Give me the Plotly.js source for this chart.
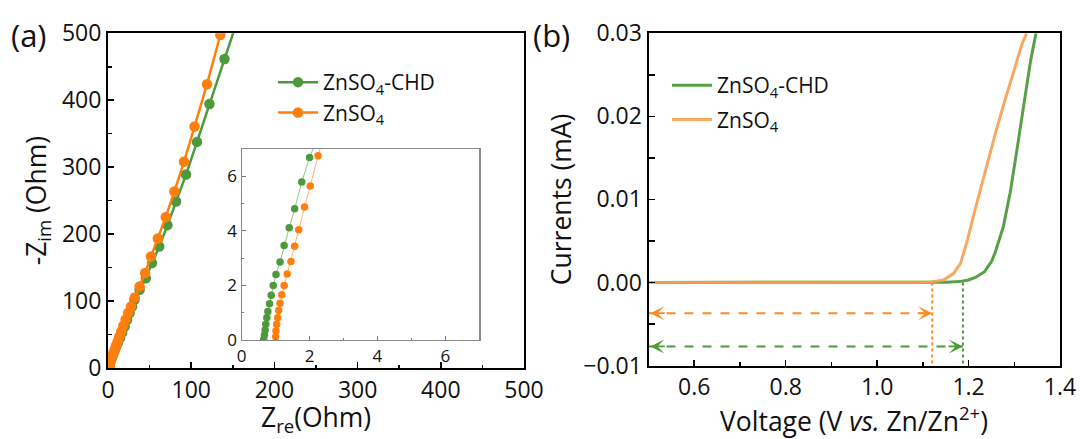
<!DOCTYPE html>
<html>
<head>
<meta charset="utf-8">
<script src="https://cdn.plot.ly/plotly-3.0.1.min.js"></script>
<style>html,body{margin:0;padding:0;background:#fff;}#chart{width:1081px;height:439px;}</style>
</head>
<body>
<div id="chart"></div>
<script>
// ---------- data (a): Nyquist plots ----------
const seriesNames = ['ZnSO<sub>4</sub>-CHD', 'ZnSO<sub>4</sub>'];
const chdZre = [0.65,0.67,0.69,0.71,0.74,0.77,0.82,0.87,0.93,1.01,1.13,1.25,1.40,1.56,1.77,2.0,
  2.4,3.0,4.0,5.0,6.5,8.0,10,12,14.5,17,20,23,26,29,
  31.8,38,45.5,52.9,61.6,71.5,81.8,93.8,107,121.9,140,160];
const chdZim = [0.02,0.18,0.37,0.58,0.82,1.04,1.33,1.64,2.0,2.40,2.86,3.46,4.11,4.81,5.79,6.69,
  8.0,10,13,17,21,26,32,38,45,53,62,72,82,92,
  102,117,134,156.7,181.6,213.4,248.8,289,337.8,394.5,461.7,536];
const refZre = [1.0,1.01,1.03,1.06,1.09,1.13,1.18,1.25,1.34,1.45,1.56,1.68,1.85,2.02,2.25,
  2.6,3.1,3.8,4.6,5.6,6.8,8.2,9.8,11.6,13.6,15.9,18.4,21.2,24.3,
  27.7,32.2,38,44.6,51.7,59.9,69.4,79.8,91.3,104,119,135];
const refZim = [0.12,0.34,0.58,0.82,1.08,1.35,1.66,2.0,2.42,2.88,3.44,4.04,4.87,5.64,6.75,
  8.2,10.2,12.8,15.8,19.3,23.4,28.2,33.6,39.8,46.8,54.5,63,72.5,82.5,
  92,105.5,121.9,141.8,166.7,193.5,225.4,263.7,308,360.7,424,497.5];

// ---------- data (b): LSV ----------
const chdV = [0.5,0.7,0.9,1.0,1.1,1.15,1.18,1.2,1.215,1.235,1.25,1.2575,1.276,1.291,1.3025,1.314,1.325,1.336,1.3475];
const chdI = [0,0,0,0,0,0.00003,0.0001,0.0003,0.0006,0.0013,0.0025,0.0035,0.0067,0.0108,0.0148,0.0188,0.0228,0.0268,0.030];
const refV = [0.5,0.7,0.9,1.0,1.08,1.119,1.145,1.1675,1.1825,1.1975,1.2125,1.2275,1.2425,1.261,1.28,1.299,1.3175,1.327];
const refI = [0,0,0,0,0,0.00005,0.0003,0.0011,0.0023,0.0051,0.0084,0.0116,0.0148,0.0184,0.022,0.0256,0.0288,0.030];
// onset potentials and arrow levels [CHD, ZnSO4]
const onsetV = [1.1877, 1.1205];
const arrowLevel = [-0.0077, -0.0037];
const vStart = 0.5;

// ---------- styles ----------
const FONT = 'Open Sans, Noto Sans, sans-serif';
const TXT = '#111';
const GREEN_A = '#4C9A3C', ORANGE_A = '#FF7F0E';
const GREEN_B = '#58A045', ORANGE_B = 'rgba(247,160,80,0.9)';
const GREEN_ARW = '#4E9A3A', ORANGE_ARW = '#FF8A1F';

const W = 1081, H = 439;
const px = v => v / W, py = v => 1 - v / H;

const traces = [
  {x: chdZre, y: chdZim, xaxis: 'x', yaxis: 'y', name: seriesNames[0], mode: 'lines+markers',
   line: {color: GREEN_A, width: 2.5}, marker: {color: GREEN_A, size: 10.5}, legend: 'legend', legendgroup: 'a1'},
  {x: refZre, y: refZim, xaxis: 'x', yaxis: 'y', name: seriesNames[1], mode: 'lines+markers',
   line: {color: ORANGE_A, width: 2.5}, marker: {color: ORANGE_A, size: 10.5}, legend: 'legend', legendgroup: 'a2'},
  {x: chdZre, y: chdZim, xaxis: 'x3', yaxis: 'y3', name: seriesNames[0], mode: 'lines+markers', showlegend: false,
   line: {color: 'rgba(76,154,60,0.6)', width: 1}, marker: {color: GREEN_A, size: 7.5}},
  {x: refZre, y: refZim, xaxis: 'x3', yaxis: 'y3', name: seriesNames[1], mode: 'lines+markers', showlegend: false,
   line: {color: 'rgba(255,127,14,0.6)', width: 1}, marker: {color: ORANGE_A, size: 7.5}},
  // panel b guide lines
  {x: [vStart, onsetV[1]], y: [arrowLevel[1], arrowLevel[1]], xaxis: 'x2', yaxis: 'y2', mode: 'lines', showlegend: false,
   line: {color: ORANGE_ARW, width: 2, dash: 'dash'}, hoverinfo: 'skip'},
  {x: [vStart, onsetV[0]], y: [arrowLevel[0], arrowLevel[0]], xaxis: 'x2', yaxis: 'y2', mode: 'lines', showlegend: false,
   line: {color: GREEN_ARW, width: 2, dash: 'dash'}, hoverinfo: 'skip'},
  {x: [onsetV[1], onsetV[1]], y: [0, -0.01], xaxis: 'x2', yaxis: 'y2', mode: 'lines', showlegend: false,
   line: {color: ORANGE_ARW, width: 2, dash: 'dot'}, hoverinfo: 'skip'},
  {x: [onsetV[0], onsetV[0]], y: [0, -0.01], xaxis: 'x2', yaxis: 'y2', mode: 'lines', showlegend: false,
   line: {color: GREEN_ARW, width: 2, dash: 'dot'}, hoverinfo: 'skip'},
  {x: chdV, y: chdI, xaxis: 'x2', yaxis: 'y2', name: seriesNames[0], mode: 'lines',
   line: {color: GREEN_B, width: 3}, legend: 'legend2', legendgroup: 'b1'},
  {x: refV, y: refI, xaxis: 'x2', yaxis: 'y2', name: seriesNames[1], mode: 'lines',
   line: {color: ORANGE_B, width: 3}, legend: 'legend2', legendgroup: 'b2'}
];

const frame = {showline: true, linecolor: '#000', linewidth: 2, mirror: true, showgrid: false, zeroline: false,
  ticks: 'inside', ticklen: 6, tickwidth: 1.5, tickcolor: '#000',
  tickfont: {family: FONT, size: 23, color: TXT}};
const titleFont = {family: FONT, size: 26.5, color: TXT};

function arrow(x, y, dir, color) {
  return {x: x, y: y, xref: 'x2', yref: 'y2', ax: -dir * 16, ay: 0, axref: 'pixel', ayref: 'pixel',
    text: '', showarrow: true, arrowhead: 3, arrowsize: 1.3, arrowwidth: 1.8, arrowcolor: color};
}

const xA = [108, 524], xB = [648.5, 1060];

const layout = {
  width: W, height: H,
  margin: {l: 0, r: 0, t: 0, b: 0},
  paper_bgcolor: '#fff', plot_bgcolor: '#fff',
  font: {family: FONT, color: TXT},
  xaxis: Object.assign({}, frame, {domain: [px(xA[0]), px(xA[1])], anchor: 'y', range: [0, 500], dtick: 100,
    minor: {ticks: 'inside', dtick: 50, ticklen: 3.5, tickwidth: 1.5, tickcolor: '#000'}}),
  yaxis: Object.assign({}, frame, {domain: [py(368), py(33.3)], anchor: 'x', range: [0, 500], dtick: 100,
    minor: {ticks: 'inside', dtick: 50, ticklen: 3.5, tickwidth: 1.5, tickcolor: '#000'},
    title: {text: '-Z<sub>im</sub> (Ohm)', font: titleFont, standoff: 8}}),
  xaxis3: {domain: [px(241.7), px(479.3)], anchor: 'y3', range: [0, 7], dtick: 2,
    showline: true, linecolor: '#8a8a8a', linewidth: 1.2, mirror: true, showgrid: false, zeroline: false,
    ticks: 'inside', ticklen: 4, tickcolor: '#777', tickfont: {family: FONT, size: 17, color: TXT},
    minor: {ticks: 'inside', dtick: 1, ticklen: 2.5, tickcolor: '#777'}},
  yaxis3: {domain: [py(340), py(149)], anchor: 'x3', range: [0, 7], dtick: 2,
    showline: true, linecolor: '#8a8a8a', linewidth: 1.2, mirror: true, showgrid: false, zeroline: false,
    ticks: 'inside', ticklen: 4, tickcolor: '#777', tickfont: {family: FONT, size: 17, color: TXT},
    minor: {ticks: 'inside', dtick: 1, ticklen: 2.5, tickcolor: '#777'}},
  xaxis2: Object.assign({}, frame, {domain: [px(xB[0]), px(xB[1])], anchor: 'y2', range: [0.5, 1.4],
    tick0: 0.6, dtick: 0.2, tickformat: '.1f',
    minor: {ticks: 'inside', dtick: 0.1, tick0: 0.5, ticklen: 3.5, tickwidth: 1.5, tickcolor: '#000'}}),
  yaxis2: Object.assign({}, frame, {domain: [py(365.5), py(33.3)], anchor: 'x2', range: [-0.01, 0.03],
    dtick: 0.01, tickformat: '.2f',
    minor: {ticks: 'inside', dtick: 0.005, ticklen: 6, tickwidth: 1.5, tickcolor: '#000'},
    title: {text: 'Currents (mA)', font: titleFont, standoff: 4}}),
  legend: {x: px(273), y: py(62), xanchor: 'left', yanchor: 'top', bgcolor: 'rgba(0,0,0,0)',
    font: {family: FONT, size: 21, color: TXT}, tracegroupgap: 0, itemwidth: 40},
  legend2: {x: px(667), y: py(65), xanchor: 'left', yanchor: 'top', bgcolor: 'rgba(0,0,0,0)',
    font: {family: FONT, size: 21, color: TXT}, tracegroupgap: 4, itemwidth: 40},
  annotations: [
    {text: 'Z<sub>re</sub>(Ohm)', xref: 'paper', yref: 'paper', x: px((xA[0] + xA[1]) / 2), y: py(397),
     xanchor: 'center', yanchor: 'top', showarrow: false, font: titleFont},
    {text: 'Voltage (V <i>vs.</i> Zn/Zn<sup>2+</sup>)', xref: 'paper', yref: 'paper', x: px((xB[0] + xB[1]) / 2), y: py(398),
     xanchor: 'center', yanchor: 'top', showarrow: false, font: titleFont},
    {text: '(a)', xref: 'paper', yref: 'paper', x: px(29), y: py(35), showarrow: false,
     xanchor: 'center', yanchor: 'middle', font: {family: FONT, size: 31, color: TXT}},
    {text: '(b)', xref: 'paper', yref: 'paper', x: px(551.5), y: py(35), showarrow: false,
     xanchor: 'center', yanchor: 'middle', font: {family: FONT, size: 31, color: TXT}},
    arrow(vStart + 0.004, arrowLevel[1], -1, ORANGE_ARW),
    arrow(onsetV[1], arrowLevel[1], 1, ORANGE_ARW),
    arrow(vStart + 0.004, arrowLevel[0], -1, GREEN_ARW),
    arrow(onsetV[0], arrowLevel[0], 1, GREEN_ARW)
  ],
  showlegend: true
};

Plotly.newPlot('chart', traces, layout, {staticPlot: true, displayModeBar: false});
</script>
</body>
</html>
